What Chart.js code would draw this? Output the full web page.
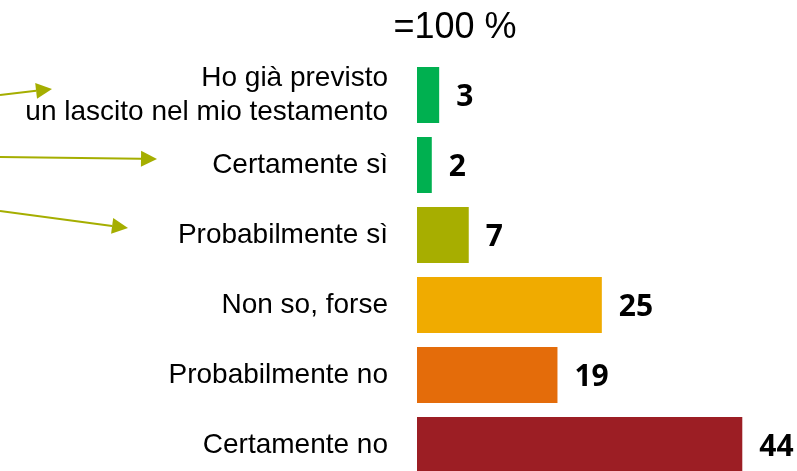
<!DOCTYPE html>
<html>
<head>
<meta charset="utf-8">
<script src="https://cdn.jsdelivr.net/npm/chart.js@4"></script>
<style>
  html, body { margin: 0; padding: 0; background: #fff; overflow: hidden; }
  canvas { display: block; }
</style>
</head>
<body>
<canvas id="chart" width="797" height="480"></canvas>
<script>
var labels = [
  ['Ho già previsto', 'un lascito nel mio testamento'],
  'Certamente sì',
  'Probabilmente sì',
  'Non so, forse',
  'Probabilmente no',
  'Certamente no'
]
var values = [3, 2, 7, 25, 19, 44]
var colors = ['#00B050', '#00B050', '#A7AE00', '#F0AB00', '#E46C0A', '#9C1E24']
var totalLabel = '=100 %'

// arrows on the left: [row, start dy, tip x, tip dy] relative to row centre
var arrows = [[0, 0, 52, -6], [1, -8, 157, -6], [2, -24, 128, -7]]

var valueLabels = {
  id: 'valueLabels',
  afterDatasetsDraw(chart) {
    const ctx = chart.ctx
    const meta = chart.getDatasetMeta(0)
    ctx.save()
    ctx.font = 'bold 30px "Open Sans"'
    ctx.fillStyle = '#000'
    ctx.textAlign = 'left'
    ctx.textBaseline = 'middle'
    meta.data.forEach((bar, i) => {
      ctx.fillText(String(values[i]), bar.x + 17, bar.y + 2)
    })
    ctx.restore()
  }
}

var extras = {
  id: 'extras',
  afterDraw(chart) {
    const ctx = chart.ctx
    const y = chart.scales.y
    ctx.save()
    ctx.font = '36px "Liberation Sans", Arial'
    ctx.fillStyle = '#000'
    ctx.textAlign = 'center'
    ctx.textBaseline = 'alphabetic'
    ctx.fillText(totalLabel, 455, 38)

    ctx.strokeStyle = '#A5AE00'
    ctx.fillStyle = '#A5AE00'
    ctx.lineWidth = 2
    arrows.forEach(a => {
      const cy = y.getPixelForValue(a[0])
      const x0 = 0, y0 = cy + a[1], x1 = a[2], y1 = cy + a[3]
      const ang = Math.atan2(y1 - y0, x1 - x0)
      const len = 16, half = 8
      const bx = x1 - len * Math.cos(ang), by = y1 - len * Math.sin(ang)
      ctx.beginPath()
      ctx.moveTo(x0, y0)
      ctx.lineTo(bx, by)
      ctx.stroke()
      ctx.beginPath()
      ctx.moveTo(x1, y1)
      ctx.lineTo(bx - half * Math.sin(ang), by + half * Math.cos(ang))
      ctx.lineTo(bx + half * Math.sin(ang), by - half * Math.cos(ang))
      ctx.closePath()
      ctx.fill()
    })
    ctx.restore()
  }
}

new Chart(document.getElementById('chart').getContext('2d'), {
  type: 'bar',
  data: {
    labels: labels,
    datasets: [{
      data: values,
      backgroundColor: colors,
      barPercentage: 0.8,
      categoryPercentage: 1
    }]
  },
  options: {
    indexAxis: 'y',
    responsive: false,
    animation: false,
    layout: { padding: { top: 60, right: 0, bottom: 0, left: 0 } },
    plugins: {
      legend: { display: false },
      tooltip: { enabled: false },
      title: { display: false }
    },
    scales: {
      x: { display: false, min: 0, max: 51.4 },
      y: {
        grid: { display: false, drawTicks: false },
        border: { display: false },
        ticks: {
          autoSkip: false,
          padding: 29,
          color: '#000',
          font: { family: '"Liberation Sans", Arial', size: 28 }
        },
        afterFit(scale) {
          scale.width = 417
          scale.paddingTop = 0
          scale.paddingBottom = 0
        }
      }
    }
  },
  plugins: [valueLabels, extras]
})
</script>
</body>
</html>
